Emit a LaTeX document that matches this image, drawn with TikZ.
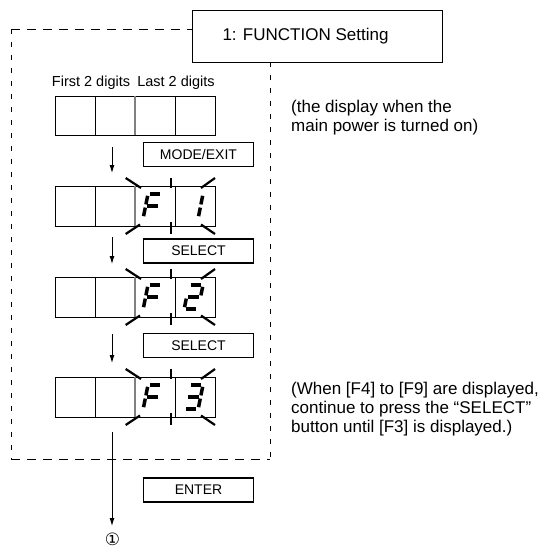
\documentclass[tikz,border=0pt]{standalone}
\usepackage{fontspec}
\setmainfont{Liberation Sans}
\newfontfamily\symfont{DejaVu Sans}
\usetikzlibrary{arrows.meta}
\newcommand\dsegA{\draw[segm] (1.8,0)--(12.2,0);}
\newcommand\dsegB{\draw[segm] (14,1.8)--(14,10.4);}
\newcommand\dsegC{\draw[segm] (14,13.6)--(14,22.2);}
\newcommand\dsegD{\draw[segm] (1.8,24)--(12.2,24);}
\newcommand\dsegE{\draw[segm] (0,13.6)--(0,22.2);}
\newcommand\dsegF{\draw[segm] (0,1.8)--(0,10.4);}
\newcommand\dsegG{\draw[segm] (1.8,12)--(12.2,12);}
\begin{document}
\begin{tikzpicture}[x=1pt,y=-1pt,
  btn/.style={draw, line width=1.8pt, minimum width=110pt, minimum height=24pt, inner sep=0pt, font=\fontsize{14}{16}\selectfont},
  titlebox/.style={draw, line width=0.9pt, minimum width=250pt, minimum height=52pt, inner sep=0pt},
  note/.style={align=left, anchor=west, inner sep=0pt, font=\fontsize{17}{19}\selectfont},
  lbl/.style={inner sep=0pt, font=\fontsize{14.5}{16}\selectfont},
  cell/.style={draw, line width=0.9pt, minimum width=40pt, inner sep=0pt, outer sep=0pt},
  flow/.style={line width=0.9pt, -{Latex[length=8pt,width=5pt]}},
  blink/.style={line width=2.2pt},
  segm/.style={line width=3.5pt},
  hdash/.style={line width=0.9pt, dash pattern=on 9pt off 7pt},
  vdash/.style={line width=0.9pt, dash pattern=on 5pt off 8pt},
]
\useasboundingbox (0,0) rectangle (544,551);

% title
\node[titlebox] (title) at (317,36) {};
\node[inner sep=0pt, font=\fontsize{17}{20}\selectfont] (titletext) at (305.5,36) {1: FUNCTION Setting};

% dashed frame
\coordinate (ftl) at (11,29);
\coordinate (fbl) at (11,459);
\coordinate (fbr) at (270,459);
\coordinate (ftr) at (270,62);
\draw[hdash] (ftl) -- (title.west |- ftl);
\draw[vdash] (ftl) -- (fbl);
\draw[hdash] (fbl) -- (fbr);
\draw[vdash] (ftr) -- (fbr);

% labels
\node[lbl] (first) at (91,83) {First 2 digits};
\node[lbl] (last) at (176,83) {Last 2 digits};

% digit rows
\foreach \r/\t/\h in {1/96/39, 2/186/40, 3/277/40, 4/377/40}{
  \foreach \c in {1,...,4}{
    \node[cell, minimum height=\h pt, anchor=north west] (r\r c\c) at ({55+40*(\c-1)},\t) {};
  }
  \draw[gray, line width=2.2pt] (r\r c3.north west) -- (r\r c3.south west);
}

% blink marks
\foreach \t/\b in {186/226, 277/317, 377/417}{
  \draw[blink] (125.7,\t-8) -- (141,\t+2);
  \draw[blink] (171,\t-8) -- (171,\t+2);
  \draw[blink] (201,\t+2) -- (215,\t-8);
  \draw[blink] (125.7,\b+8) -- (140,\b-1.5);
  \draw[blink] (171,\b-4) -- (171,\b+8);
  \draw[blink] (201,\b-1.5) -- (215,\b+8);
}

% digits: F in cell 3 of rows 2-4
\foreach \t in {186,277,377}{
  \begin{scope}[shift={(148,\t+8)}, xslant=0.2]
    \dsegA\dsegF\dsegG\dsegE
  \end{scope}
}
\begin{scope}[shift={(189,194)}, xslant=0.2]
  \dsegB\dsegC
\end{scope}
\begin{scope}[shift={(189,285)}, xslant=0.2]
  \dsegA\dsegB\dsegG\dsegE\dsegD
\end{scope}
\begin{scope}[shift={(189,385)}, xslant=0.2]
  \dsegA\dsegB\dsegG\dsegC\dsegD
\end{scope}

% buttons
\node[btn] (mode) at (198.5,154.5) {MODE/EXIT};
\node[btn] (sel1) at (198.5,250.8) {SELECT};
\node[btn] (sel2) at (198.5,345.5) {SELECT};
\node[btn] (enter) at (198.5,490) {ENTER};

% arrows
\coordinate (a1s) at (112,147); \coordinate (a1e) at (112,173);
\coordinate (a2s) at (112,237); \coordinate (a2e) at (112,264);
\coordinate (a3s) at (112,334); \coordinate (a3e) at (112,363);
\coordinate (a4s) at (112,432); \coordinate (a4e) at (112,526);
\draw[flow] (a1s) -- (a1e);
\draw[flow] (a2s) -- (a2e);
\draw[flow] (a3s) -- (a3e);
\draw[flow] (a4s) -- (a4e);
\node[inner sep=0pt, font=\symfont\fontsize{17}{18}\selectfont] (circ) at (112.5,539) {①};

% notes
\node[note] (n1) at (291,118) {(the display when the\\main power is turned on)};
\node[note] (n2) at (291,409) {(When [F4] to [F9] are displayed,\\continue to press the “SELECT”\\button until [F3] is displayed.)};
\end{tikzpicture}
\end{document}
